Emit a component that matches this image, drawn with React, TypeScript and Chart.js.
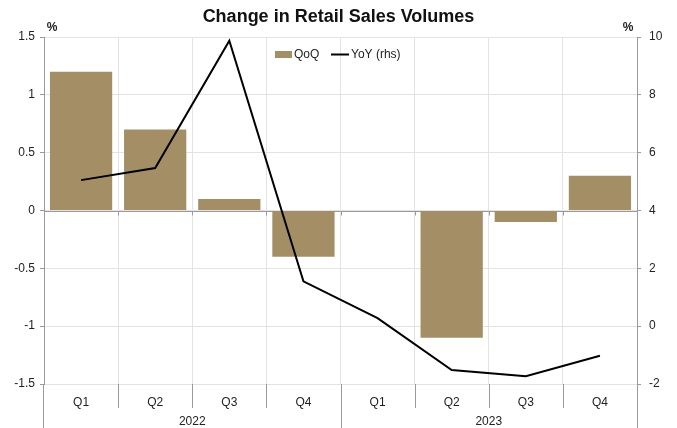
import React, { useEffect, useRef } from "react";
import { Chart, registerables } from "chart.js";

Chart.register(...registerables);

const categories = ["Q1", "Q2", "Q3", "Q4", "Q1", "Q2", "Q3", "Q4"];
const years = ["2022", "2023"];
const quartersPerYear = 4;
const qoq = [1.2, 0.7, 0.1, -0.4, 0, -1.1, -0.1, 0.3];
const yoy = [5.05, 5.47, 9.87, 1.55, 0.28, -1.52, -1.73, -1.02];
const leftTicks = [-1.5, -1, -0.5, 0, 0.5, 1, 1.5];
const rightTicks = [-2, 0, 2, 4, 6, 8, 10];

const FONT = '"Liberation Sans", Arial, sans-serif';
const BAR_COLOR = "#a48e66";
const AXIS_COLOR = "#9a9a9a";
const GRID_COLOR = "#e3e3e3";
const TEXT_COLOR = "#222";

const overlay = {
  id: "overlay",
  beforeDatasetsDraw(chart: any) {
    const { ctx, chartArea, scales } = chart;
    const x = scales.x;
    const y = scales.y;
    const y0 = Math.round(y.getPixelForValue(0)) + 0.5;
    ctx.save();
    ctx.strokeStyle = AXIS_COLOR;
    ctx.lineWidth = 1;
    ctx.beginPath();
    ctx.moveTo(chartArea.left, y0);
    ctx.lineTo(chartArea.right, y0);
    for (let i = 1; i < categories.length; i++) {
      const bx = Math.round((x.getPixelForValue(i - 1) + x.getPixelForValue(i)) / 2) + 0.5;
      ctx.moveTo(bx, y0);
      ctx.lineTo(bx, y0 + 4);
    }
    ctx.stroke();
    ctx.restore();
  },
  afterDraw(chart: any) {
    const { ctx, chartArea, scales, width } = chart;
    const x = scales.x;
    ctx.save();
    ctx.strokeStyle = AXIS_COLOR;
    ctx.lineWidth = 1;
    ctx.beginPath();
    const bottom = chartArea.bottom;
    for (let i = 1; i < categories.length; i++) {
      const bx = Math.round((x.getPixelForValue(i - 1) + x.getPixelForValue(i)) / 2) + 0.5;
      const len = i % quartersPerYear === 0 ? 44 : 24;
      ctx.moveTo(bx, bottom);
      ctx.lineTo(bx, bottom + len);
    }
    const lx = Math.round(chartArea.left) - 0.5;
    const rx = Math.round(chartArea.right) + 0.5;
    ctx.moveTo(lx, bottom);
    ctx.lineTo(lx, bottom + 44);
    ctx.moveTo(rx, bottom);
    ctx.lineTo(rx, bottom + 44);
    ctx.stroke();

    // year labels
    ctx.fillStyle = TEXT_COLOR;
    ctx.font = `12px ${FONT}`;
    ctx.textAlign = "center";
    ctx.textBaseline = "middle";
    years.forEach((yr, k) => {
      const a = x.getPixelForValue(k * quartersPerYear);
      const b = x.getPixelForValue(k * quartersPerYear + quartersPerYear - 1);
      ctx.fillText(yr, (a + b) / 2, bottom + 38);
    });

    // title
    ctx.font = `bold 18px ${FONT}`;
    ctx.fillStyle = "#111";
    ctx.fillText("Change in Retail Sales Volumes", width / 2, 17);

    // % labels
    ctx.font = `bold 12px ${FONT}`;
    ctx.fillStyle = TEXT_COLOR;
    ctx.fillText("%", 52, 28);
    ctx.fillText("%", 628, 28);

    // legend
    ctx.font = `12px ${FONT}`;
    ctx.textAlign = "left";
    ctx.fillStyle = BAR_COLOR;
    ctx.fillRect(275, 51, 17, 7);
    ctx.fillStyle = TEXT_COLOR;
    ctx.fillText("QoQ", 294, 55);
    ctx.strokeStyle = "#000";
    ctx.lineWidth = 2;
    ctx.beginPath();
    ctx.moveTo(331, 54.5);
    ctx.lineTo(349, 54.5);
    ctx.stroke();
    ctx.fillText("YoY (rhs)", 351, 55);
    ctx.restore();
  },
};

export default function App() {
  const ref = useRef<HTMLCanvasElement | null>(null);
  useEffect(() => {
    if (!ref.current) return;
    const chart = new Chart(ref.current, {
      type: "bar",
      data: {
        labels: categories,
        datasets: [
          {
            type: "line",
            label: "YoY (rhs)",
            data: yoy,
            yAxisID: "y1",
            borderColor: "#000",
            borderWidth: 2,
            pointRadius: 0,
            tension: 0,
            order: 0,
          } as any,
          {
            type: "bar",
            label: "QoQ",
            data: qoq,
            yAxisID: "y",
            backgroundColor: BAR_COLOR,
            barPercentage: 0.84,
            categoryPercentage: 1,
            order: 1,
          },
        ],
      },
      options: {
        responsive: true,
        maintainAspectRatio: false,
        animation: false,
        layout: { padding: { top: 37, left: 0, right: 0, bottom: 0 } },
        plugins: {
          legend: { display: false },
          title: { display: false },
          tooltip: { enabled: false },
        },
        scales: {
          x: {
            type: "category",
            offset: true,
            grid: { offset: true, color: GRID_COLOR, drawTicks: false },
            border: { display: false },
            ticks: {
              color: TEXT_COLOR,
              font: { family: FONT, size: 12 },
              padding: 11,
              maxRotation: 0,
            },
            afterFit: (s: any) => {
              s.height = 44;
            },
          },
          y: {
            position: "left",
            min: -1.5,
            max: 1.5,
            afterBuildTicks: (s: any) => {
              s.ticks = leftTicks.map((v) => ({ value: v }));
            },
            grid: { color: GRID_COLOR, tickColor: AXIS_COLOR, tickLength: 4 },
            border: { display: true, color: AXIS_COLOR },
            ticks: {
              color: TEXT_COLOR,
              font: { family: FONT, size: 12 },
              padding: 5,
              callback: (v: any) => String(v),
            },
            afterFit: (s: any) => {
              s.width = 44;
            },
          },
          y1: {
            position: "right",
            min: -2,
            max: 10,
            afterBuildTicks: (s: any) => {
              s.ticks = rightTicks.map((v) => ({ value: v }));
            },
            grid: { drawOnChartArea: false, tickColor: AXIS_COLOR, tickLength: 4 },
            border: { display: true, color: AXIS_COLOR },
            ticks: {
              color: TEXT_COLOR,
              font: { family: FONT, size: 12 },
              padding: 8,
              callback: (v: any) => String(v),
            },
            afterFit: (s: any) => {
              s.width = 40;
            },
          },
        },
      },
      plugins: [overlay],
    });
    return () => chart.destroy();
  }, []);
  return (
    <div style={{ position: "fixed", left: 0, top: 0, width: 677, height: 428, background: "#fff" }}>
      <canvas ref={ref} />
    </div>
  );
}
